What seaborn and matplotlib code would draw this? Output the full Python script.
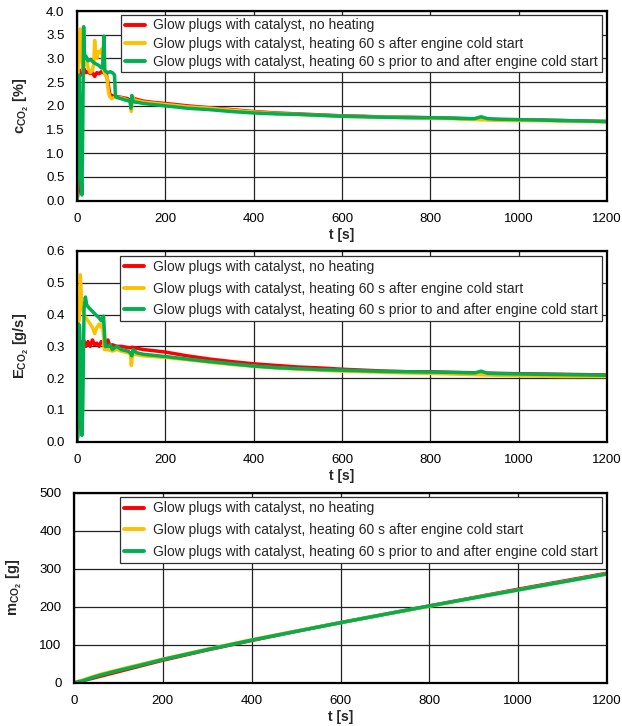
import numpy as np
import pandas as pd
import matplotlib
matplotlib.use("Agg")
import matplotlib.pyplot as plt
import seaborn as sns

# ---------------------------------------------------------------- data
labels = [
    "Glow plugs with catalyst, no heating",
    "Glow plugs with catalyst, heating 60 s after engine cold start",
    "Glow plugs with catalyst, heating 60 s prior to and after engine cold start",
]
colors = ["#FF0000", "#FFC000", "#00B050"]

# CO2 concentration [%]
c_red_t = [0, 3, 5, 8, 12, 16, 20, 25, 30, 35, 40, 45, 50, 55, 60, 66, 70, 74, 78, 85,
           100, 115, 122, 125, 130, 150, 175, 200, 250, 300, 350, 400, 450, 500, 550,
           600, 650, 700, 750, 800, 850, 900, 950, 1000, 1050, 1100, 1150, 1200]
c_red_v = [0, 0.2, 2.7, 2.75, 2.65, 2.78, 2.7, 2.72, 2.68, 2.7, 2.62, 2.7, 2.68, 2.72, 2.7,
           2.68, 2.5, 2.25, 2.22, 2.2, 2.18, 2.15, 2.1, 2.17, 2.15, 2.1, 2.07, 2.05, 2.0,
           1.96, 1.92, 1.88, 1.85, 1.83, 1.81, 1.79, 1.78, 1.76, 1.76, 1.75, 1.74, 1.72,
           1.71, 1.7, 1.7, 1.69, 1.68, 1.67]

c_org_t = [0, 2, 4, 7, 10, 13, 16, 20, 25, 30, 35, 38, 40, 42, 45, 48, 52, 56, 60, 64, 68,
           71, 74, 78, 85, 100, 115, 121, 123, 126, 128, 132, 150, 200, 250, 300, 350, 400,
           450, 500, 550, 600, 650, 700, 750, 800, 850, 900, 950, 1000, 1050, 1100, 1150, 1200]
c_org_v = [0, 2.6, 3.3, 3.62, 3.0, 2.75, 2.85, 3.0, 2.8, 2.7, 2.75, 2.9, 3.38, 3.05, 3.0,
           3.15, 3.12, 3.2, 2.75, 2.65, 2.6, 2.3, 2.2, 2.15, 2.18, 2.17, 2.12, 2.08, 1.88,
           2.2, 2.1, 2.12, 2.08, 2.03, 1.98, 1.95, 1.91, 1.87, 1.84, 1.82, 1.8, 1.78, 1.77,
           1.76, 1.75, 1.74, 1.73, 1.71, 1.7, 1.69, 1.69, 1.68, 1.67, 1.66]

c_grn_t = [0, 2, 3, 5, 8, 11, 13, 15, 17, 20, 25, 30, 40, 50, 55, 58, 61, 63, 66, 70, 75,
           80, 85, 87, 90, 100, 110, 120, 122, 124, 127, 130, 140, 150, 200, 250, 300, 350,
           400, 450, 500, 550, 600, 650, 700, 750, 800, 850, 900, 915, 930, 950, 1000, 1050,
           1100, 1150, 1200]
c_grn_v = [0, 0.5, 2.6, 2.65, 1.0, 0.12, 1.5, 3.67, 3.0, 3.05, 2.95, 2.98, 2.9, 2.85, 2.8,
           2.8, 3.47, 2.75, 2.72, 2.7, 2.72, 2.7, 2.65, 2.2, 2.18, 2.15, 2.12, 2.1, 1.95,
           2.22, 2.1, 2.08, 2.07, 2.05, 2.0, 1.95, 1.92, 1.88, 1.85, 1.83, 1.82, 1.8, 1.78,
           1.77, 1.76, 1.75, 1.75, 1.74, 1.73, 1.77, 1.73, 1.72, 1.71, 1.7, 1.69, 1.68, 1.67]

# CO2 mass flow [g/s]
e_red_t = [0, 3, 6, 10, 15, 20, 25, 30, 35, 40, 45, 50, 55, 60, 65, 70, 75, 80, 90, 100,
           120, 125, 150, 200, 250, 300, 350, 400, 450, 500, 550, 600, 650, 700, 750, 800,
           850, 900, 950, 1000, 1050, 1100, 1150, 1200]
e_red_v = [0, 0.05, 0.3, 0.31, 0.32, 0.3, 0.315, 0.3, 0.32, 0.305, 0.31, 0.3, 0.315, 0.31,
           0.3, 0.32, 0.3, 0.305, 0.3, 0.3, 0.295, 0.297, 0.29, 0.282, 0.27, 0.26, 0.252,
           0.245, 0.24, 0.235, 0.232, 0.228, 0.225, 0.222, 0.22, 0.22, 0.218, 0.217, 0.215,
           0.214, 0.213, 0.212, 0.211, 0.21]

e_org_t = [0, 3, 5, 7.5, 10, 15, 20, 25, 30, 35, 40, 45, 50, 55, 58, 62, 70, 80, 90, 100,
           115, 121, 123, 126, 130, 150, 200, 250, 300, 350, 400, 450, 500, 550, 600, 650,
           700, 750, 800, 850, 900, 950, 1000, 1050, 1100, 1150, 1200]
e_org_v = [0, 0.42, 0.38, 0.525, 0.45, 0.4, 0.39, 0.38, 0.37, 0.36, 0.34, 0.36, 0.37, 0.36,
           0.37, 0.29, 0.29, 0.285, 0.29, 0.285, 0.28, 0.275, 0.24, 0.28, 0.275, 0.27, 0.265,
           0.258, 0.25, 0.243, 0.237, 0.232, 0.228, 0.225, 0.222, 0.22, 0.218, 0.216, 0.215,
           0.213, 0.211, 0.209, 0.207, 0.206, 0.205, 0.205, 0.205]

e_grn_t = [0, 2, 4, 6, 8, 11, 13, 16, 19, 22, 28, 35, 42, 50, 55, 60, 64, 70, 75, 80, 90,
           100, 115, 121, 124, 127, 135, 150, 200, 250, 300, 350, 400, 450, 500, 550, 600,
           650, 700, 750, 800, 850, 900, 915, 930, 1000, 1050, 1100, 1150, 1200]
e_grn_v = [0, 0.02, 0.37, 0.36, 0.2, 0.02, 0.1, 0.42, 0.455, 0.43, 0.42, 0.41, 0.4, 0.39,
           0.38, 0.395, 0.3, 0.3, 0.305, 0.29, 0.3, 0.29, 0.285, 0.28, 0.27, 0.29, 0.28,
           0.275, 0.268, 0.26, 0.252, 0.245, 0.238, 0.233, 0.23, 0.227, 0.225, 0.223, 0.221,
           0.22, 0.219, 0.218, 0.216, 0.222, 0.215, 0.213, 0.212, 0.211, 0.21, 0.209]

# cumulative CO2 mass [g]
m_t = [0, 20, 40, 60, 80, 100, 150, 200, 300, 400, 500, 600, 700, 800, 900, 1000, 1100, 1200]
m_red = [0, 5, 11, 17, 23, 29, 44, 59, 86, 111, 135, 158, 180, 202, 224, 246, 267, 288]
m_org = [0, 7, 15, 22, 28, 34, 48, 62, 88, 113, 136, 158, 180, 201, 223, 244, 265, 286]
m_grn = [0, 5, 13, 20, 26, 32, 46, 61, 87, 112, 135, 158, 180, 202, 223, 244, 265, 286]

x_ticks = [0, 200, 400, 600, 800, 1000, 1200]

# ---------------------------------------------------------------- style
sns.set_theme(style="white")
plt.rcParams["font.family"] = ["Liberation Sans", "DejaVu Sans"]
plt.rcParams["mathtext.fontset"] = "custom"
plt.rcParams["mathtext.rm"] = "Liberation Sans"
plt.rcParams["mathtext.bf"] = "Liberation Sans:bold"
plt.rcParams["mathtext.it"] = "Liberation Sans:italic"

fig = plt.figure(figsize=(6.22, 7.26), dpi=100)
ax1 = fig.add_axes([0.1238, 0.7236, 0.852, 0.2612])
ax2 = fig.add_axes([0.1238, 0.3916, 0.852, 0.2627])
ax3 = fig.add_axes([0.1190, 0.0597, 0.857, 0.2617])

panels = [
    (ax1, [(c_red_t, c_red_v), (c_org_t, c_org_v), (c_grn_t, c_grn_v)],
     np.arange(0, 4.01, 0.5), "{:.1f}", r"$\mathbf{c}_{\mathbf{CO_2}}$ [%]"),
    (ax2, [(e_red_t, e_red_v), (e_org_t, e_org_v), (e_grn_t, e_grn_v)],
     np.arange(0, 0.61, 0.1), "{:.1f}", r"$\mathbf{E}_{\mathbf{CO_2}}$ [g/s]"),
    (ax3, [(m_t, m_red), (m_t, m_org), (m_t, m_grn)],
     np.arange(0, 501, 100), "{:.0f}", r"$\mathbf{m}_{\mathbf{CO_2}}$ [g]"),
]

for ax, series, yticks, fmt, ylab in panels:
    for (t, v), col, lab in zip(series, colors, labels):
        df = pd.DataFrame({"t": t, "v": v})
        sns.lineplot(data=df, x="t", y="v", ax=ax, color=col, lw=2.5, label=lab,
                     sort=False, estimator=None)
    ax.set_xlim(0, 1200)
    ax.set_ylim(yticks[0], yticks[-1])
    ax.set_xticks(x_ticks)
    ax.set_xticklabels([str(x) for x in x_ticks])
    ax.set_yticks(yticks)
    ax.set_yticklabels([fmt.format(y) for y in yticks])
    ax.grid(True, color="#222222", lw=0.9)
    ax.set_axisbelow(True)
    for s in ax.spines.values():
        s.set_color("black")
        s.set_linewidth(1.6)
    ax.tick_params(axis="both", length=0, labelsize=9.5, colors="black")
    ax.tick_params(axis="x", pad=9)
    ax.tick_params(axis="y", pad=9)
    ax.set_xlabel("t [s]", fontsize=10, fontweight="bold", labelpad=2)
    ax.set_ylabel(ylab, fontsize=10.5, fontweight="bold", labelpad=11)

leg_kw = dict(loc="upper right", fontsize=10, frameon=True, fancybox=False,
              framealpha=1, edgecolor="#303030", handlelength=1.45,
              handletextpad=0.6, borderaxespad=0)
l1 = ax1.legend(bbox_to_anchor=(0.99, 0.979), labelspacing=0.3, borderpad=0.25, **leg_kw)
l2 = ax2.legend(bbox_to_anchor=(0.99, 0.975), labelspacing=0.55, borderpad=0.3, **leg_kw)
l3 = ax3.legend(bbox_to_anchor=(0.99, 0.976), labelspacing=0.55, borderpad=0.3, **leg_kw)
for lg in (l1, l2, l3):
    lg.get_frame().set_linewidth(0.9)
    for h in lg.get_lines():
        h.set_linewidth(2.8)

fig.savefig("out.png", dpi=100)
